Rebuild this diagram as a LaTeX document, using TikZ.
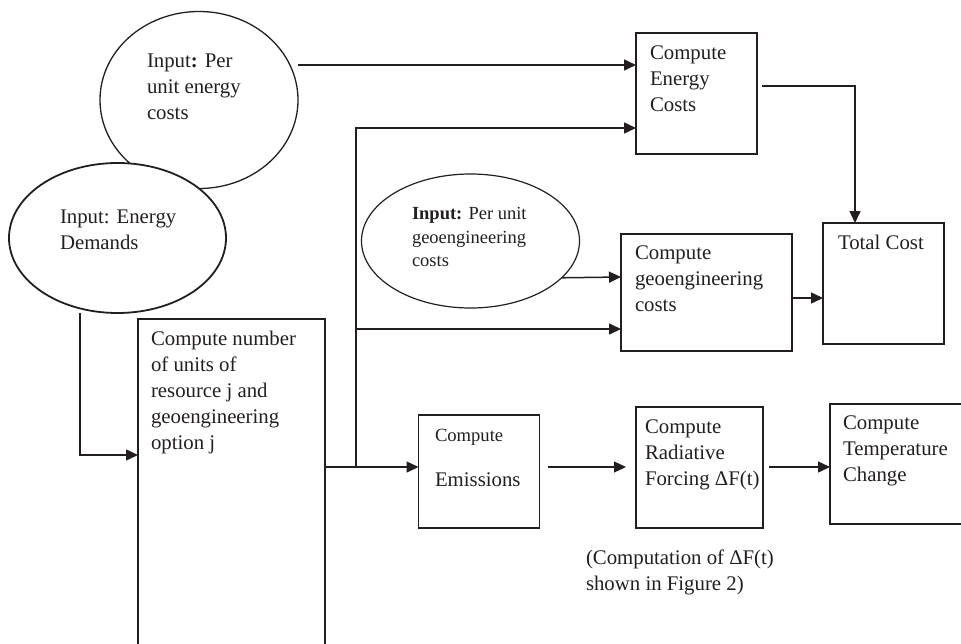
\documentclass[tikz,border=0pt]{standalone}
\usepackage{fontspec}
\setmainfont{Liberation Serif}
\usetikzlibrary{arrows.meta,shapes.geometric}
\definecolor{ink}{HTML}{231F20}
\newcommand\tx[3]{\makebox[0pt][l]{\hspace*{#1}\raisebox{#2}[0pt][0pt]{\begin{tabular}[t]{@{}l@{}}#3\end{tabular}}}}
\tikzset{
  base/.style={draw=ink, line width=1.5pt, fill=white, inner sep=0pt, outer sep=0pt, text=ink, font=\fontsize{20.8}{26}\selectfont},
  boxn/.style={base, rectangle},
  ell/.style={base, ellipse},
  arr/.style={draw=ink, line width=1.5pt, -{Triangle[length=12pt,width=11pt]}},
  ln/.style={draw=ink, line width=1.5pt},
}
\begin{document}
\begin{tikzpicture}[x=1pt,y=-1pt]
\useasboundingbox (0,0) rectangle (961,643);
\fill[white] (0,0) rectangle (961,643);
% ellipses
\node[ell, line width=1.3pt, minimum width=198pt, minimum height=177pt] (E1) at (199,100)
  {\tx{-52pt}{33pt}{Input\textbf{:} Per\\unit energy\\costs}};
\node[ell, line width=1.8pt, minimum width=217pt, minimum height=150pt] (E2) at (117.5,238)
  {\tx{-57.5pt}{15pt}{Input: Energy\\Demands}};
\node[ell, line width=1.2pt, minimum width=218pt, minimum height=134pt, font=\fontsize{18.5}{23.5}\selectfont] (G) at (470.5,241)
  {\tx{-58.5pt}{21.5pt}{\textbf{Input:} Per unit\\geoengineering\\costs}};
% boxes
\node[boxn, minimum width=121pt, minimum height=121pt] (EC) at (696.5,93.5)
  {\tx{-46.5pt}{34.5pt}{Compute\\Energy\\Costs}};
\node[boxn, minimum width=171pt, minimum height=117pt] (GB) at (706.5,292.5)
  {\tx{-71.5pt}{33.5pt}{Compute\\geoengineering\\costs}};
\node[boxn, minimum width=121pt, minimum height=121pt] (TC) at (883.5,283.5)
  {\tx{-45.5pt}{34.5pt}{Total Cost}};
\node[boxn, minimum width=187pt, minimum height=331pt] (CN) at (231.5,484.5)
  {\tx{-80.5pt}{139.5pt}{Compute number\\of units of\\resource j and\\geoengineering\\option j}};
\node[boxn, line width=1.1pt, minimum width=121pt, minimum height=113pt] (EM) at (479,471.5)
  {\tx{-44pt}{30.5pt}{{\fontsize{18.6}{26}\selectfont Compute}\\[19pt]Emissions}};
\node[boxn, minimum width=127pt, minimum height=121pt] (RF) at (699.5,467.5)
  {\tx{-54.5pt}{34.5pt}{Compute\\Radiative\\Forcing ΔF(t)}};
\node[boxn, minimum width=145pt, minimum height=120pt] (TM) at (902.5,464)
  {\tx{-59.5pt}{35pt}{Compute\\Temperature\\Change}};
\node[inner sep=0pt, outer sep=0pt, text=ink, font=\fontsize{20.8}{26}\selectfont] (CP) at (586,564)
  {\tx{0pt}{0pt}{(Computation of ΔF(t)\\shown in Figure 2)}};
% connectors
\coordinate (j) at (356,467);
\coordinate (k) at (855,86);
\coordinate (m) at (80,455);
\draw[arr] (E1.east |- 0,65) -- (EC.west |- 0,65);
\draw[ln] (CN.east |- j) -- (j);
\draw[arr] (j) -- (EM.west |- j);
\draw[arr] (j) |- (EC.west |- 0,128);
\draw[arr] (j |- 0,329) -- (GB.west |- 0,329);
\draw[arr] (G.-22) -- (GB.west |- 0,277);
\draw[arr] (GB.east |- 0,298) -- (TC.west |- 0,298);
\draw[arr, shorten <=5pt] (EC.east |- k) -- (k) -- (k |- TC.north);
\draw[arr] (m |- E2.south) -- (m) -- (CN.west |- m);
\draw[arr, line width=1.1pt, shorten <=8pt, shorten >=10pt] (EM.east |- j) -- (RF.west |- j);
\draw[arr, shorten <=6pt] (RF.east |- j) -- (TM.west |- j);
\end{tikzpicture}
\end{document}
